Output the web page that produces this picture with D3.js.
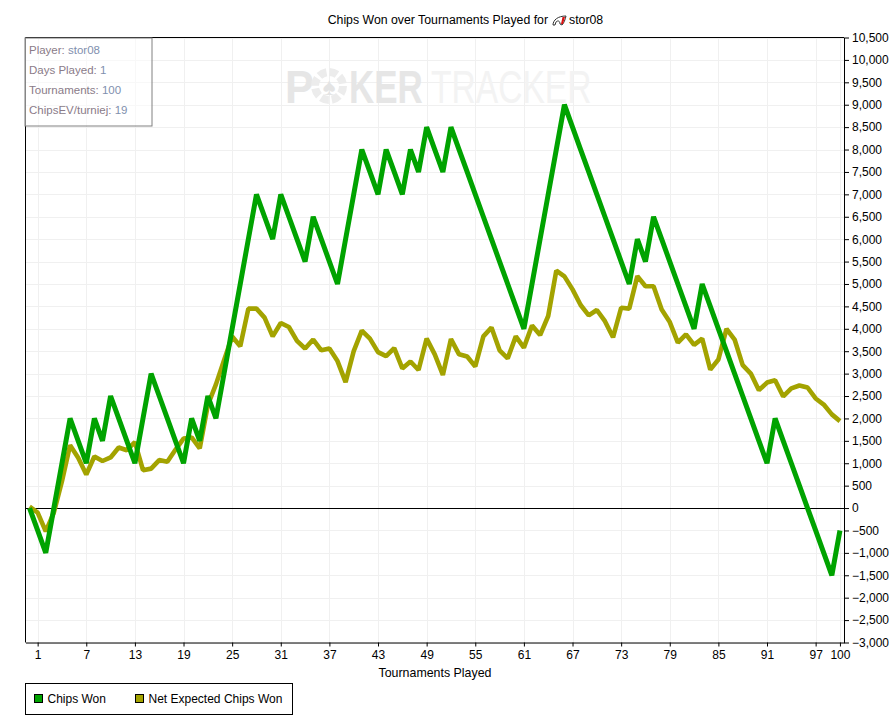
<!DOCTYPE html>
<html lang="en">
<head>
  <meta charset="UTF-8">
  <title>Chips Won over Tournaments Played</title>
  <script src="https://d3js.org/d3.v7.min.js"></script>
  <style>
    html, body { margin: 0; padding: 0; background: #fff; }
    svg { display: block; font-family: "Liberation Sans", Arial, sans-serif; font-size: 12px; }
  </style>
</head>
<body>

<script>
  // Chart values. Index 0 is the start, before tournament 1.
  const chipsWon = [
    0, -500, -1000, 0, 1000, 2000, 1500, 1000, 2000, 1500,
    2500, 2000, 1500, 1000, 2000, 3000, 2500, 2000, 1500, 1000,
    2000, 1500, 2500, 2000, 3000, 4000, 5000, 6000, 7000, 6500,
    6000, 7000, 6500, 6000, 5500, 6500, 6000, 5500, 5000, 6000,
    7000, 8000, 7500, 7000, 8000, 7500, 7000, 8000, 7500, 8500,
    8000, 7500, 8500, 8000, 7500, 7000, 6500, 6000, 5500, 5000,
    4500, 4000, 5000, 6000, 7000, 8000, 9000, 8500, 8000, 7500,
    7000, 6500, 6000, 5500, 5000, 6000, 5500, 6500, 6000, 5500,
    5000, 4500, 4000, 5000, 4500, 4000, 3500, 3000, 2500, 2000,
    1500, 1000, 2000, 1500, 1000, 500, 0, -500, -1000, -1500,
    -500
  ];
  const netExpected = [
    30, -100, -520, -100, 600, 1400, 1120, 750, 1150, 1050,
    1130, 1350, 1290, 1470, 845, 880, 1070, 1035, 1300, 1550,
    1575, 1330, 2300, 2760, 3300, 3830, 3610, 4450, 4450, 4250,
    3830, 4130, 4040, 3730, 3560, 3760, 3520, 3560, 3280, 2810,
    3500, 3960, 3780, 3480, 3390, 3570, 3115, 3270, 3080, 3780,
    3430, 2970, 3770, 3430, 3380, 3160, 3830, 4030, 3520, 3340,
    3830, 3580, 4075, 3860, 4285, 5300, 5170, 4880, 4530, 4300,
    4420, 4170, 3810, 4470, 4450, 5175, 4950, 4950, 4430, 4150,
    3690, 3875, 3640, 3780, 3090, 3315, 4000, 3760, 3190, 3000,
    2630, 2800, 2850, 2490, 2670, 2735, 2690, 2445, 2310, 2090,
    1940
  ];
  const xTicks = [1, 7, 13, 19, 25, 31, 37, 43, 49, 55, 61, 67, 73, 79, 85, 91, 97, 100];
  const yTicks = d3.range(-3000, 10501, 500);
  const statLines = [
    ["Player: ", "stor08"],
    ["Days Played: ", "1"],
    ["Tournaments: ", "100"],
    ["ChipsEV/turniej: ", "19"]
  ];
  const legendNames = ["Chips Won", "Net Expected Chips Won"];
  const colors = ["#00a300", "#a3a300"];

  const width = 893;
  const height = 722;
  const plot = { left: 25.5, right: 844, top: 37.5, bottom: 642.5 };

  const svg = d3.select("body").append("svg")
    .attr("width", width)
    .attr("height", height);

  const xScale = d3.scaleLinear().domain([-0.5, 100.5]).range([plot.left, plot.right]);
  const yScale = d3.scaleLinear().domain([-3000, 10500]).range([plot.bottom, plot.top]);

  // Title, with the little player icon
  svg.append("text")
    .attr("x", 548).attr("y", 24)
    .attr("text-anchor", "end")
    .attr("font-size", 12.3)
    .text("Chips Won over Tournaments Played for");
  svg.append("text").attr("x", 569).attr("y", 24).attr("font-size", 12.3).text("stor08");
  svg.append("path")
    .attr("d", "M553 25 C553 20 558 16 566 16 C565 20 564 23 562 25 L560 24 C560 21 558 20 556 22 L555 25 Z")
    .attr("fill", "#fff").attr("stroke", "#333").attr("stroke-width", 1);
  svg.append("path")
    .attr("d", "M562.5 17 L565 17 L563 24 L561 24 Z")
    .attr("fill", "#d11");

  // Grid
  svg.append("g").selectAll("line").data(yTicks).enter().append("line")
    .attr("x1", plot.left).attr("x2", plot.right)
    .attr("y1", d => Math.round(yScale(d)) + 0.5).attr("y2", d => Math.round(yScale(d)) + 0.5)
    .attr("stroke", "#f0f0f0");
  svg.append("g").selectAll("line").data(xTicks).enter().append("line")
    .attr("x1", d => Math.round(xScale(d)) + 0.5).attr("x2", d => Math.round(xScale(d)) + 0.5)
    .attr("y1", plot.top).attr("y2", plot.bottom)
    .attr("stroke", "#f0f0f0");

  // Watermark, squeezed horizontally with a scale so the boxes stay apart
  const mark = svg.append("g");
  mark.append("text")
    .attr("transform", "translate(285,103) scale(0.94,1)")
    .attr("font-size", 46).attr("font-weight", "bold").attr("fill", "#e6e6e6")
    .text("P");
  mark.append("circle")
    .attr("cx", 329).attr("cy", 86).attr("r", 14)
    .attr("fill", "none").attr("stroke", "#ececec").attr("stroke-width", 8)
    .attr("stroke-dasharray", "8 3");
  mark.append("text")
    .attr("x", 329).attr("y", 95).attr("text-anchor", "middle")
    .attr("font-size", 24).attr("fill", "#e4e4e4")
    .text("♠");
  mark.append("text")
    .attr("transform", "translate(349,103) scale(0.76,1)")
    .attr("font-size", 46).attr("font-weight", "bold").attr("fill", "#e6e6e6")
    .text("KER");
  mark.append("text")
    .attr("transform", "translate(431,103) scale(0.73,1)")
    .attr("font-size", 46).attr("fill", "#f3f3f3")
    .text("TRACKER");

  // Zero line
  svg.append("line")
    .attr("x1", plot.left).attr("x2", plot.right)
    .attr("y1", Math.round(yScale(0)) + 0.5).attr("y2", Math.round(yScale(0)) + 0.5)
    .attr("stroke", "#000");

  // Lines, green goes on top
  const line = d3.line().x((d, i) => xScale(i)).y(d => yScale(d));
  [netExpected, chipsWon].forEach((series, i) => {
    svg.append("path")
      .attr("d", line(series))
      .attr("fill", "none")
      .attr("stroke", colors[1 - i])
      .attr("stroke-width", i === 0 ? 4.6 : 5)
      .attr("stroke-linejoin", "bevel");
  });

  // Axes
  const xAxis = svg.append("g")
    .attr("transform", "translate(0," + plot.bottom + ")")
    .call(d3.axisBottom(xScale).tickValues(xTicks).tickFormat(d3.format("d")).tickSize(4).tickSizeOuter(0));
  const yAxis = svg.append("g")
    .attr("transform", "translate(" + plot.right + ",0)")
    .call(d3.axisRight(yScale).tickValues(yTicks).tickFormat(d3.format(",")).tickSize(5).tickSizeOuter(0));
  [xAxis, yAxis].forEach(a => {
    a.attr("font-family", null).attr("font-size", null);
    a.selectAll("path").attr("stroke", "#000");
    a.selectAll("line").attr("stroke", "#000");
    a.selectAll("text").attr("fill", "#000");
  });
  yAxis.selectAll("text").attr("x", 8);
  xAxis.selectAll("text").attr("y", 8);

  // Frame
  svg.append("path")
    .attr("d", "M" + plot.left + " " + plot.bottom + "V" + plot.top + "H" + plot.right)
    .attr("fill", "none").attr("stroke", "#000");

  svg.append("text")
    .attr("x", 435).attr("y", 677)
    .attr("text-anchor", "middle")
    .attr("font-size", 12.4)
    .text("Tournaments Played");

  // Stats box
  svg.append("rect")
    .attr("x", 25).attr("y", 38).attr("width", 127).attr("height", 88)
    .attr("fill", "#fff").attr("fill-opacity", 0.55)
    .attr("stroke", "#808080");
  const statText = svg.append("g").selectAll("text").data(statLines).enter().append("text")
    .attr("x", 29)
    .attr("y", (d, i) => 54 + i * 20)
    .attr("font-size", 11.5)
    .attr("fill", "#8a7b88");
  statText.append("tspan").text(d => d[0]);
  statText.append("tspan").attr("fill", "#7f8fae").text(d => d[1]);

  // Legend
  svg.append("rect")
    .attr("x", 25.5).attr("y", 683.5).attr("width", 267).attr("height", 31)
    .attr("fill", "#fff").attr("stroke", "#000");
  const legendX = [34.5, 135.5];
  legendNames.forEach((name, i) => {
    svg.append("rect")
      .attr("x", legendX[i]).attr("y", 694.5).attr("width", 8).attr("height", 8)
      .attr("fill", colors[i]).attr("stroke", "#000");
    svg.append("text")
      .attr("x", legendX[i] + 13).attr("y", 703)
      .text(name);
  });
</script>

</body>
</html>
